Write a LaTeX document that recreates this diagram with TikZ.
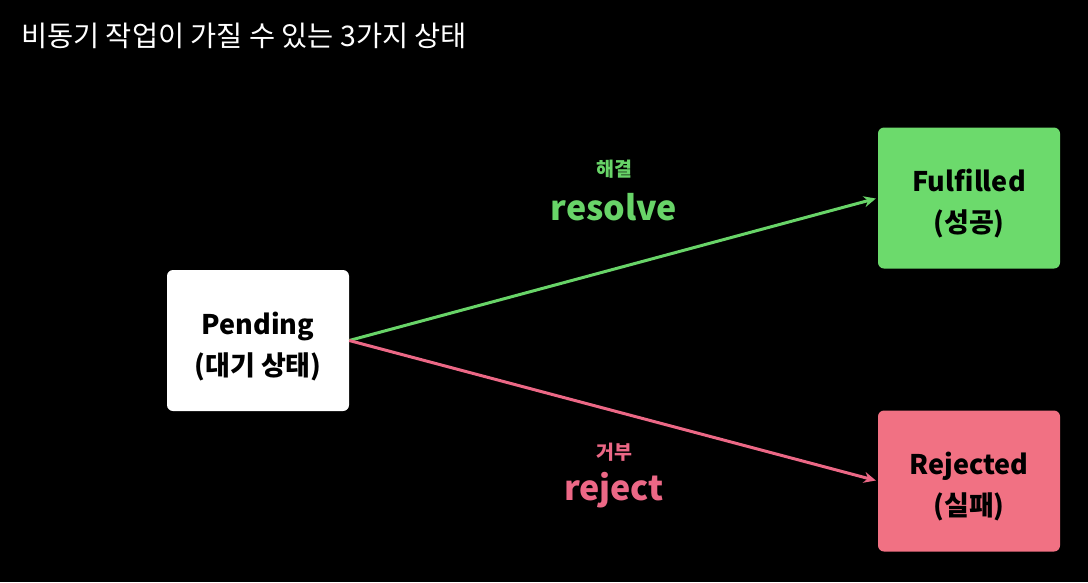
\documentclass[tikz,border=0pt]{standalone}
\usepackage{fontspec}
\setmainfont{Noto Sans CJK KR}
\usetikzlibrary{arrows.meta}
\definecolor{okgreen}{RGB}{108,218,108}
\definecolor{okline}{RGB}{104,212,104}
\definecolor{failpink}{RGB}{241,113,131}
\definecolor{failline}{RGB}{236,104,134}

\begin{document}
\begin{tikzpicture}[x=1pt, y=-1pt,
    every node/.style={align=center, inner sep=0pt},
    state/.style={rounded corners=6pt, minimum width=182pt, minimum height=141pt},
    statetext/.style={font=\bfseries\fontsize{27}{41}\selectfont, text=black},
    trans/.style={line width=3pt, -{Stealth[length=12pt, width=11pt]}, shorten >=2pt},
    kolabel/.style={font=\bfseries\fontsize{19.5}{21}\selectfont},
    enlabel/.style={font=\bfseries\fontsize{34}{36}\selectfont},
  ]
  % background and frame
  \fill[black] (0,0) rectangle (1088,582);
  \useasboundingbox (0,0) rectangle (1088,582);

  % title
  \node[anchor=base west, text=white, font=\fontsize{28.4}{32}\selectfont]
    (title) at (21,46) {비동기 작업이 가질 수 있는 3가지 상태};

  % states
  \node[state, fill=white] (pending) at (258,340.5) {};
  \node[state, fill=okgreen] (fulfilled) at (969,198) {};
  \node[state, fill=failpink] (rejected) at (969,481) {};
  \node[statetext] (pendingtext) at ([yshift=-6pt]pending) {Pending\\(대기 상태)};
  \node[statetext] (fulfilledtext) at ([yshift=-6pt]fulfilled) {Fulfilled\\(성공)};
  \node[statetext] (rejectedtext) at ([yshift=-6pt]rejected) {Rejected\\(실패)};

  % transitions
  \draw[trans, okline] (pending.east) -- (fulfilled.west);
  \draw[trans, failline] (pending.east) -- (rejected.west);

  % labels
  \node[kolabel, text=okline] (resolveko) at (614,169) {해결};
  \node[enlabel, text=okline] (resolveen) at (614,207) {resolve};
  \node[kolabel, text=failline] (rejectko) at (614,452) {거부};
  \node[enlabel, text=failline] (rejecten) at (614,490) {reject};
\end{tikzpicture}
\end{document}
